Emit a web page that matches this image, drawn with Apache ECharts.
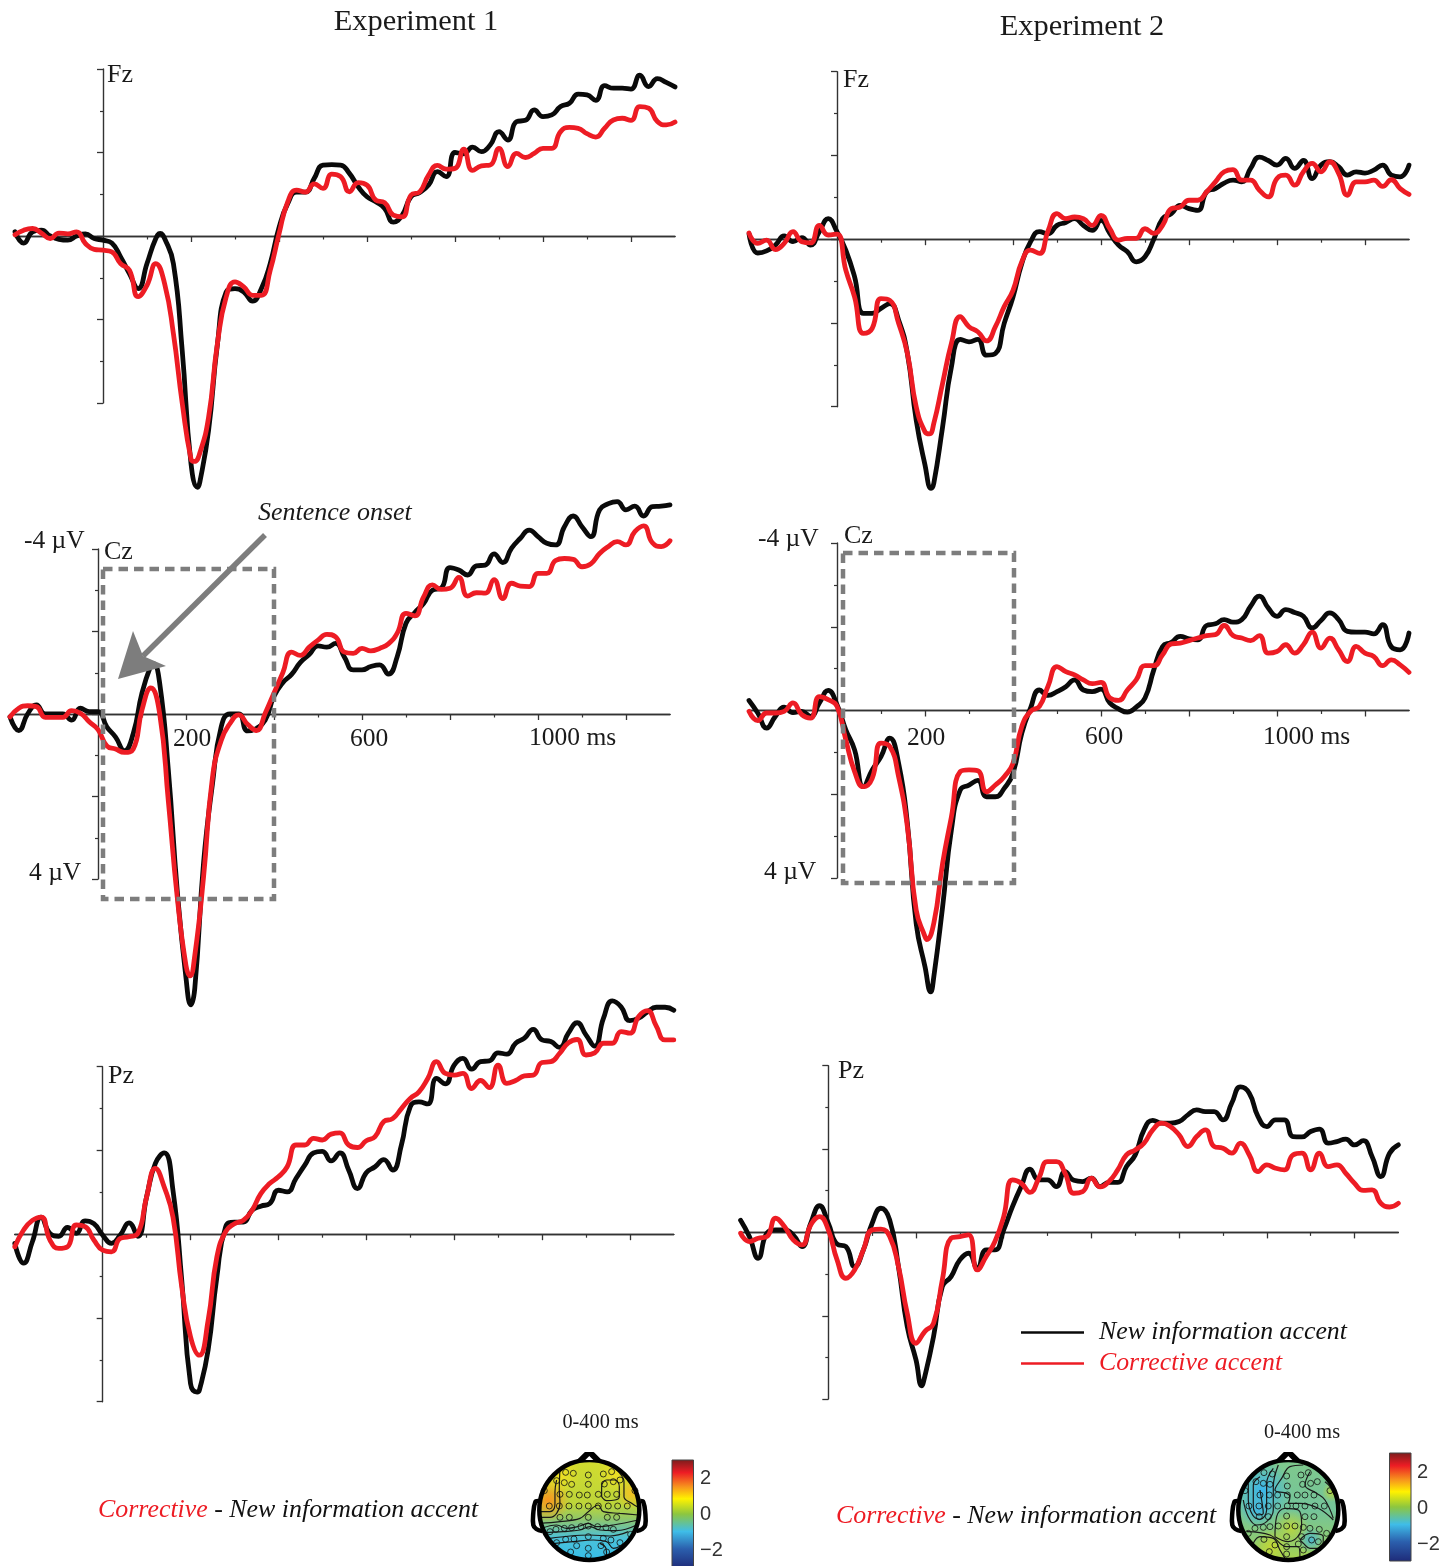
<!DOCTYPE html>
<html><head><meta charset="utf-8">
<style>html,body{margin:0;padding:0;background:#fff}#c{width:1456px;height:1566px}</style>
<script src="https://cdn.jsdelivr.net/npm/echarts@6/dist/echarts.min.js"></script>
</head><body><div id="c"></div>
<script>
// sample times in ms, one every 20 ms from -200 to 1300
const times = [-200,-180,-160,-140,-120,-100,-80,-60,-40,-20,0,20,40,60,80,100,120,140,160,180,200,220,240,260,280,300,320,340,360,380,400,420,440,460,480,500,520,540,560,580,600,620,640,660,680,700,720,740,760,780,800,820,840,860,880,900,920,940,960,980,1000,1020,1040,1060,1080,1100,1120,1140,1160,1180,1200,1220,1240,1260,1280,1300];
const xMajorTicks = [200,400,600,800,1000,1200];
const xMinorTicks = [100,300,500,700,900,1100];
const seriesNew = 'New information accent';
const seriesCorr = 'Corrective accent';

// Experiment 1, values in microvolts (negative is up)
const e1FzNew = [-.1,.17,-.1,-.14,0,.08,.1,0,-.05,.06,.1,.17,.5,.9,1.26,.66,.06,.06,.66,2.74,5.45,5.9,4.65,2.6,1.34,1.26,1.34,1.56,1.26,.66,-.2,-.78,-1.05,-1.05,-1.38,-1.7,-1.71,-1.7,-1.5,-1.18,-.94,-.82,-.66,-.33,-.5,-.94,-1.04,-1.22,-1.54,-1.42,-2,-1.97,-2.13,-2.02,-2.18,-2.5,-2.3,-2.74,-2.77,-3.02,-2.86,-2.9,-3.1,-3.18,-3.4,-3.38,-3.25,-3.6,-3.54,-3.54,-3.52,-3.85,-3.58,-3.77,-3.68,-3.57];
const e1FzNewPeaks = [[130,-.06],[215,6.02]];
const e1FzCorr = [-.03,-.14,-.18,-.07,.06,-.07,-.05,-.1,.18,.32,.34,.38,.66,.82,1.45,1.18,.66,1.14,2.34,4,5.34,5.2,4.34,2.58,1.46,1.1,1.22,1.42,1.42,.82,-.05,-.82,-1.1,-1.05,-1.25,-1.14,-1.48,-1.42,-1.06,-1.28,-1.22,-.86,-.8,-.5,-.46,-.98,-1.06,-1.46,-1.69,-1.6,-1.62,-2.08,-1.57,-1.68,-1.7,-2.1,-1.66,-1.98,-1.88,-1.98,-2.1,-2.1,-2.5,-2.6,-2.58,-2.45,-2.37,-2.58,-2.78,-2.82,-2.77,-3.1,-3.06,-2.74,-2.66,-2.73];
const e1FzCorrPeaks = [[208,5.4]];
const e1CzNew = [.07,.4,0,-.22,0,0,0,.15,-.14,-.06,-.06,.31,.56,.89,.48,-.51,-1.17,-.76,1.38,4.27,6.4,6.65,3.6,1.71,.31,0,0,.41,.35,.15,-.43,-.76,-.96,-1.25,-1.44,-1.65,-1.62,-1.71,-1.38,-1.07,-1.07,-1.15,-1.19,-.97,-1.39,-2.2,-2.46,-2.68,-3,-3.05,-3.55,-3.49,-3.37,-3.59,-3.61,-3.88,-3.67,-4.02,-4.26,-4.46,-4.3,-4.14,-4.1,-4.54,-4.8,-4.54,-4.3,-4.95,-5.1,-5.15,-4.95,-5.04,-4.8,-5.03,-5.04,-5.07];
const e1CzNewPeaks = [[126,-1.22],[211,7.05]];
const e1CzCorr = [.07,-.14,-.2,-.18,.08,.08,.08,-.08,-.02,.19,.38,.77,.85,.93,.85,-.1,-.63,-.02,2.13,4.43,6.1,5.85,3.94,1.55,.64,.23,.02,.25,.4,-.02,-.51,-1,-1.5,-1.42,-1.62,-1.79,-1.93,-1.87,-1.5,-1.47,-1.59,-1.53,-1.59,-1.7,-1.96,-2.44,-2.38,-2.84,-3.13,-3.02,-3.05,-3.31,-2.86,-2.94,-2.93,-3.26,-2.8,-3.17,-3.1,-3.09,-3.41,-3.41,-3.72,-3.77,-3.75,-3.57,-3.64,-3.89,-4.06,-4.18,-4.1,-4.42,-4.56,-4.15,-4.06,-4.2];
const e1CzCorrPeaks = [[209,6.35]];
const e1PzNew = [.22,.69,.18,-.41,-.02,.05,-.16,-.02,-.32,-.25,.02,.22,.02,-.27,.05,-.89,-1.69,-1.94,-1.05,1.1,3.57,3.73,2.77,1.02,-.18,-.29,-.29,-.57,-.67,-.73,-1.05,-1.01,-1.33,-1.65,-1.94,-1.98,-1.75,-1.94,-1.53,-1.09,-1.47,-1.61,-1.78,-1.53,-2.13,-3.04,-3.16,-3.11,-3.72,-3.59,-4.04,-4.2,-3.94,-4.12,-4.14,-4.33,-4.3,-4.56,-4.68,-4.89,-4.64,-4.6,-4.46,-4.8,-5.05,-4.76,-4.49,-5.16,-5.57,-5.43,-5.1,-5.16,-5.31,-5.42,-5.42,-5.35];
const e1PzNewPeaks = [[215,3.77]];
const e1PzCorr = [.3,-.1,-.33,-.41,.14,.34,.3,-.22,-.18,.14,.38,.42,.1,.06,-.02,-.89,-1.57,-1.13,-.41,1.26,2.45,2.89,2.06,.54,-.06,-.25,-.33,-.57,-.97,-1.21,-1.37,-1.61,-2.13,-2.13,-2.29,-2.25,-2.39,-2.42,-2.13,-2.07,-2.23,-2.33,-2.69,-2.76,-3,-3.24,-3.4,-3.72,-4.12,-3.84,-3.8,-3.84,-3.48,-3.67,-3.5,-4.04,-3.6,-3.67,-3.78,-3.8,-4.1,-4.12,-4.32,-4.57,-4.65,-4.28,-4.33,-4.56,-4.56,-4.84,-4.8,-5.2,-5.34,-4.97,-4.64,-4.64];

// Experiment 2
const e2FzNew = [-.13,.33,.28,.14,-.08,.06,-.04,.14,-.18,-.49,-.18,.26,.9,1.77,1.77,1.65,1.54,1.93,2.73,4.32,5.39,5.83,4.48,3.05,2.39,2.45,2.39,2.77,2.73,2.01,1.38,.58,.06,-.18,-.13,-.33,-.4,-.49,-.33,-.21,-.45,-.14,.14,.3,.54,.42,0,-.49,-.61,-.81,-.73,-.69,-1.13,-1.21,-1.34,-1.41,-1.37,-1.69,-1.96,-1.88,-1.77,-1.93,-1.69,-1.88,-1.45,-1.77,-1.85,-1.73,-1.53,-1.61,-1.58,-1.65,-1.77,-1.53,-1.49,-1.77];
const e2FzNewPeaks = [[214,5.95]];
const e2FzCorr = [-.15,.1,.02,.25,.1,-.18,.06,.09,-.33,-.1,-.12,.74,1.38,2.25,2.13,1.42,1.46,2.01,2.73,4,4.6,4.4,3.44,2.49,1.85,2.09,2.21,2.43,2.09,1.61,1.22,.54,.26,.34,-.21,-.61,-.49,-.53,-.49,-.33,-.57,-.25,.02,-.02,-.02,-.25,-.14,-.33,-.73,-.77,-.93,-.93,-1.13,-1.37,-1.61,-1.66,-1.41,-1.41,-1.17,-1.01,-1.45,-1.53,-1.29,-1.61,-1.81,-1.61,-1.85,-1.57,-1.05,-1.37,-1.37,-1.41,-1.26,-1.42,-1.21,-1.07];
const e2FzCorrPeaks = [[210,4.65]];
const e2CzNew = [-.24,.06,.42,.14,-.08,.05,.02,.14,-.18,-.48,-.14,.46,.94,1.82,1.42,1.1,.66,1.26,2.7,5.09,6.12,6.36,4.69,2.85,1.9,1.78,1.67,2.06,2.06,1.86,1.5,.54,-.06,-.49,-.36,-.45,-.57,-.73,-.49,-.45,-.51,-.18,-.04,.04,-.08,-.3,-.97,-1.53,-1.63,-1.77,-1.71,-1.69,-2.03,-2.07,-2.17,-2.11,-2.17,-2.49,-2.73,-2.45,-2.25,-2.41,-2.34,-2.25,-1.97,-2.15,-2.33,-2.17,-1.89,-1.87,-1.87,-1.83,-2.05,-1.52,-1.45,-1.85];
const e2CzNewPeaks = [[213,6.72]];
const e2CzCorr = [.02,.24,.06,.06,.02,-.18,.1,.18,-.33,-.26,-.1,.7,1.46,1.82,1.62,.78,.86,1.58,2.78,4.77,5.4,5.08,3.65,2.54,1.46,1.42,1.44,1.94,1.78,1.58,1.26,.38,.02,-.1,-.59,-1.05,-.93,-.85,-.73,-.64,-.67,-.3,-.24,-.49,-.73,-1.07,-1.07,-1.33,-1.59,-1.61,-1.67,-1.73,-1.79,-1.81,-2.03,-1.79,-1.73,-1.67,-1.79,-1.37,-1.41,-1.57,-1.37,-1.57,-1.87,-1.49,-1.73,-1.45,-1.17,-1.53,-1.37,-1.29,-1.07,-1.21,-1.09,-.91];
const e2CzCorrPeaks = [[204,5.47]];
const e2PzNew = [-.29,.1,.62,.02,-.06,-.06,.06,.34,-.22,-.64,-.22,.28,.34,.82,.42,-.22,-.58,-.3,.82,2.26,3.06,3.46,2.5,1.3,1.06,.66,.5,.86,.42,.42,-.06,-.62,-1.1,-1.52,-1.26,-1.26,-1.1,-1.46,-1.25,-1.22,-1.3,-1.1,-1.2,-1.2,-1.58,-1.86,-2.46,-2.69,-2.62,-2.62,-2.66,-2.82,-2.94,-2.9,-2.9,-2.7,-3.1,-3.49,-3.34,-2.78,-2.54,-2.7,-2.7,-2.3,-2.29,-2.42,-2.48,-2.14,-2.18,-2.24,-2.1,-2.2,-1.82,-1.34,-1.9,-2.1];
const e2PzNewPeaks = [[213,3.68]];
const e2PzCorr = [.02,.22,.14,.1,-.34,-.14,.18,.3,-.18,-.38,-.06,.66,1.1,.9,.42,-.06,-.08,.1,.82,1.94,2.66,2.38,2.18,1.14,.14,.1,.06,.9,.58,.22,-.38,-1.26,-1.18,-.96,-1.3,-1.7,-1.7,-1.42,-.94,-.98,-1.3,-1.09,-1.22,-1.5,-1.86,-1.98,-2.14,-2.46,-2.62,-2.54,-2.34,-2.06,-2.3,-2.46,-2.06,-2.02,-1.9,-2.14,-1.86,-1.46,-1.62,-1.54,-1.5,-1.86,-1.9,-1.5,-1.9,-1.58,-1.62,-1.42,-1.18,-1.01,-1.02,-.7,-.61,-.7];

// Scalp-map electrode positions, in map units (x, y down)
const e1Electrodes = [[197,217],[220,220],[265,225],[310,222],[335,215],[170,242],[193,248],[215,253],[265,253],[313,252],[340,245],[360,240],[133,272],[405,272],[180,283],[208,283],[238,285],[262,285],[295,283],[322,283],[350,283],[148,318],[178,318],[207,318],[237,318],[265,318],[295,318],[325,318],[353,318],[382,318],[180,352],[208,352],[265,352],[322,352],[350,352],[150,395],[168,388],[193,385],[215,383],[243,380],[265,378],[293,380],[318,383],[340,388],[392,403],[170,428],[197,418],[222,417],[265,410],[310,415],[333,420],[360,428],[230,437],[265,445],[303,437],[212,456],[320,456],[265,467]];
const e2Electrodes = [[162,218],[187,222],[230,228],[273,225],[295,218],[138,245],[160,250],[180,253],[232,258],[278,253],[302,250],[322,245],[105,272],[360,272],[150,285],[178,285],[203,285],[232,285],[262,285],[285,285],[312,285],[117,318],[147,318],[175,318],[203,318],[232,318],[258,318],[285,318],[315,318],[343,318],[148,350],[175,350],[230,348],[285,350],[312,350],[135,385],[160,382],[180,380],[205,378],[230,378],[255,378],[280,382],[300,385],[328,388],[350,400],[115,400],[162,418],[195,435],[230,410],[275,410],[305,420],[325,425],[265,432],[280,450],[230,440],[178,455],[230,462]];
const e1Contours = [
 [[180,205],[178,270],[180,310],[170,340],[150,352],[122,352]],
 [[123,335],[150,335],[163,325],[165,310],[165,275],[170,240]],
 [[345,205],[372,245],[372,290],[395,310],[415,322]],
 [[305,290],[305,260],[320,240],[345,240],[358,260],[358,290],[345,300],[320,302],[305,290]],
 [[120,370],[180,365],[240,355],[265,335],[295,315],[310,335],[360,340],[415,345]],
 [[125,385],[170,375],[200,385],[240,378],[265,370],[290,380],[340,375],[415,360]],
 [[130,398],[190,395],[240,390],[270,380],[300,390],[350,392],[410,375]],
 [[150,415],[210,408],[270,405],[330,408],[385,395]],
 [[165,430],[220,425],[280,420],[320,425],[340,445],[385,420]],
 [[320,470],[318,445],[300,430]]
];
const e2Contours = [
 [[205,195],[190,260],[190,330],[170,365],[140,375],[115,350],[100,300]],
 [[190,205],[170,250],[170,330],[150,358],[128,345],[115,300],[115,250]],
 [[150,230],[130,255],[130,320],[145,345],[160,340],[155,300],[150,270]],
 [[280,195],[240,200],[215,235],[195,270],[230,280],[240,290],[235,310],[270,310],[325,325],[370,360]],
 [[300,215],[285,255],[320,280],[345,300],[370,355]],
 [[195,410],[200,350],[225,325],[265,330],[275,370],[270,400],[235,425],[195,410]],
 [[110,395],[180,405],[230,440],[265,440],[270,475]],
 [[270,420],[300,400],[340,410],[335,445],[300,445],[280,430],[270,420]],
 [[130,430],[150,410],[190,415],[210,450],[225,475]],
 [[345,245],[360,260],[380,300]]
];

const RED = '#ed1c24', BLACK = '#0a0a0a', GREY = '#7d7d7d', AXIS = '#333';
const SERIF = '"Liberation Serif","Times New Roman",serif';

const panels = [
 {a:e1FzNew, ap:e1FzNewPeaks, b:e1FzCorr, bp:e1FzCorrPeaks, left:15,   width:660,   top:69,    height:334},
 {a:e1CzNew, ap:e1CzNewPeaks, b:e1CzCorr, bp:e1CzCorrPeaks, left:10,   width:660,   top:549,   height:330},
 {a:e1PzNew, ap:e1PzNewPeaks, b:e1PzCorr, bp:[],            left:14.8, width:659,   top:1066.7,height:335},
 {a:e2FzNew, ap:e2FzNewPeaks, b:e2FzCorr, bp:e2FzCorrPeaks, left:749,  width:660,   top:71.7,  height:335},
 {a:e2CzNew, ap:e2CzNewPeaks, b:e2CzCorr, bp:e2CzCorrPeaks, left:749,  width:660,   top:543,   height:335},
 {a:e2PzNew, ap:e2PzNewPeaks, b:e2PzCorr, bp:[],            left:740.6,width:657.75,top:1065.7,height:333.4}
];
const pairs = (arr,extra) => times.map((t,i)=>[t,arr[i]]).concat(extra).sort((p,q)=>p[0]-q[0]);
const grids=[], xAxes=[], yAxes=[], series=[];
panels.forEach((p,i)=>{
  grids.push({left:p.left, top:p.top, width:p.width, height:p.height, outerBoundsMode:'none'});
  xAxes.push({gridIndex:i, type:'value', position:'bottom', min:-200, max:1300,
    splitLine:{show:false}, axisLine:{onZero:true, lineStyle:{color:AXIS,width:1.4}},
    axisTick:{show:true, customValues:xMajorTicks, length:6, lineStyle:{color:AXIS,width:1.3}},
    axisLabel:{show:false}});
  xAxes.push({gridIndex:i, type:'value', position:'bottom', min:-200, max:1300,
    splitLine:{show:false}, axisLine:{show:true, onZero:true, lineStyle:{color:AXIS,width:1.4}},
    axisTick:{show:true, customValues:xMinorTicks, length:3.5, lineStyle:{color:AXIS,width:1.2}},
    axisLabel:{show:false}});
  yAxes.push({gridIndex:i, type:'value', inverse:true, position:'left', min:-4, max:4, interval:2,
    splitLine:{show:false}, axisLine:{onZero:true, lineStyle:{color:AXIS,width:1.4}},
    axisTick:{show:true, length:6, lineStyle:{color:AXIS,width:1.3}},
    minorTick:{show:true, splitNumber:2, length:3, lineStyle:{color:AXIS,width:1.2}},
    axisLabel:{show:false}});
  // hidden twin, so that the odd-hundreds tick axis can also sit on the zero line
  yAxes.push({gridIndex:i, type:'value', inverse:true, position:'left', min:-4, max:4, show:false, splitLine:{show:false}});
  [[seriesNew,p.a,p.ap,BLACK],[seriesCorr,p.b,p.bp,RED]].forEach(([n,d,e,c])=>{
    series.push({type:'line', name:n, xAxisIndex:i*2, yAxisIndex:i*2, data:pairs(d,e), clip:false, smooth:0.5,
      showSymbol:false, symbol:'none', silent:true, animation:false, z:2,
      lineStyle:{color:c, width:4.8, cap:'round', join:'round'}, itemStyle:{color:c}});
  });
});

// scalp-map grids (map units are one third of a pixel)
const maps = [
 {left:539.3, top:1460, xMin:118, electrodes:e1Electrodes, contours:e1Contours, cx:589.3, cy:1510},
 {left:1238.3,top:1460, xMin:85,  electrodes:e2Electrodes, contours:e2Contours, cx:1288.3,cy:1510}
];
maps.forEach(m=>{
  const gi = grids.length, xi = xAxes.length, yi = yAxes.length;
  grids.push({left:m.left, top:m.top, width:100, height:100, outerBoundsMode:'none'});
  xAxes.push({gridIndex:gi, type:'value', min:m.xMin, max:m.xMin+300, show:false, splitLine:{show:false}});
  yAxes.push({gridIndex:gi, type:'value', inverse:true, min:180, max:480, show:false, splitLine:{show:false}});
  m.contours.forEach(c=>series.push({type:'line', name:'contour', xAxisIndex:xi, yAxisIndex:yi, data:c, smooth:0.4,
    showSymbol:false, symbol:'none', clip:false, silent:true, animation:false, z:2, lineStyle:{color:'#1a1a1a',width:1.2}}));
  series.push({type:'scatter', name:'electrodes', xAxisIndex:xi, yAxisIndex:yi, data:m.electrodes, symbol:'circle', symbolSize:6,
    silent:true, animation:false, z:3, itemStyle:{color:'rgba(0,0,0,0)', borderColor:'#111', borderWidth:1}});
});

const T = (text,x,y,size,extra={})=>({type:'text', z:20, x, y, style:Object.assign({text, fontFamily:SERIF, fontSize:size, fill:'#1a1a1a', align:'left', verticalAlign:'middle'},extra)});
const patch = (cx,cy,r,color)=>({type:'circle', z:0.5, shape:{cx,cy,r}, style:{fill:{type:'radial',x:.5,y:.5,r:.5,colorStops:[{offset:0,color:color},{offset:1,color:color.replace(/[\d.]+\)$/,'0)')}]}}});
const headLine = (pts)=>({type:'polyline', z:6, shape:{points:pts, smooth:0.4}, style:{fill:'none',stroke:'#000',lineWidth:4.5,lineJoin:'round'}});
const field = (m,stops,patches)=>[
  {type:'circle', z:0, shape:{cx:m.cx,cy:m.cy,r:50}, style:{fill:{type:'linear',x:0,y:0,x2:0,y2:1,colorStops:stops}}},
  ...patches,
  {type:'ring', z:1, shape:{cx:m.cx,cy:m.cy,r:72,r0:50}, style:{fill:'#fff'}},
  {type:'circle', z:5, shape:{cx:m.cx,cy:m.cy,r:50}, style:{fill:'none',stroke:'#000',lineWidth:4.5}},
  headLine([[m.cx-51,m.cy-9],[m.cx-54,m.cy-8],[m.cx-56,m.cy+3],[m.cx-56,m.cy+15],[m.cx-53,m.cy+19],[m.cx-47,m.cy+21]]),
  headLine([[m.cx+51,m.cy-9],[m.cx+54,m.cy-8],[m.cx+56,m.cy+3],[m.cx+56,m.cy+15],[m.cx+53,m.cy+19],[m.cx+47,m.cy+21]]),
  {type:'polygon', z:6, shape:{points:[[m.cx-12,m.cy-49],[m.cx-4,m.cy-57],[m.cx+4,m.cy-57],[m.cx+12,m.cy-49]]}, style:{fill:'#000',stroke:'#000',lineWidth:2,lineJoin:'round'}},
  {type:'polygon', z:7, shape:{points:[[m.cx-4,m.cy-50],[m.cx,m.cy-54],[m.cx+4,m.cy-50]]}, style:{fill:'#fff'}}
];
const barStops = [{offset:0,color:'#7a1c1c'},{offset:.12,color:'#ed1c24'},{offset:.25,color:'#f7941d'},{offset:.36,color:'#fff200'},{offset:.5,color:'#8dc63f'},{offset:.66,color:'#3fbde8'},{offset:.82,color:'#2b5fad'},{offset:1,color:'#1e2a78'}];
const bar = (x,y)=>({type:'rect', z:5, shape:{x,y,width:21.5,height:108}, style:{fill:{type:'linear',x:0,y:0,x2:0,y2:1,colorStops:barStops},stroke:'#444',lineWidth:1}});
const sans = {fontFamily:'"Liberation Sans",Arial,sans-serif', fill:'#333'};
const caption = (x,y)=>({type:'text', z:20, x, y, style:{text:'{r|Corrective}{k| - New information accent}', verticalAlign:'middle',
   rich:{r:{fontFamily:SERIF,fontSize:25.9,fontStyle:'italic',fill:RED}, k:{fontFamily:SERIF,fontSize:25.9,fontStyle:'italic',fill:'#111'}}}});
const box = (l,t,r,b)=>({type:'rect', z:10, shape:{x:l,y:t,width:r-l,height:b-t}, style:{fill:'none',stroke:GREY,lineWidth:4.5,lineDash:[9.5,6]}});

const graphics = [
  T('Experiment 1',416,22,30.4,{align:'center'}), T('Experiment 2',1082,27,30.4,{align:'center'}),
  T('Fz',107,75,26), T('Cz',104,552,26), T('Pz',108,1076,26),
  T('Fz',843,80,26), T('Cz',844,536,26), T('Pz',838,1071,26),
  T('Sentence onset',258,513,26,{fontStyle:'italic'}),
  T('-4 µV',24,541,25.5), T('4 µV',29,873,25.5), T('-4 µV',758,539,25.5), T('4 µV',764,872,25.5),
  T('200',192,739,25.5,{align:'center'}), T('600',369,739,25.5,{align:'center'}), T('1000 ms',529,738,25.5),
  T('200',926,738,25.5,{align:'center'}), T('600',1104,737,25.5,{align:'center'}), T('1000 ms',1263,737,25.5),
  box(103,569,274,899), box(843,553,1014,883),
  {type:'line', z:11, shape:{x1:265,y1:535,x2:143,y2:656}, style:{stroke:GREY,lineWidth:5.5}},
  {type:'polygon', z:11, shape:{points:[[118,679],[133,631],[143,656],[166,666]]}, style:{fill:GREY}},
  caption(98,1510), caption(836,1516),
  T('0-400 ms',600.5,1423,20.3,{align:'center'}), T('0-400 ms',1302,1433,20.3,{align:'center'}),
  ...field(maps[0],[{offset:0,color:'#d3dc2e'},{offset:.45,color:'#bcd53a'},{offset:.58,color:'#93c865'},{offset:.68,color:'#6fc3a0'},{offset:.78,color:'#4cc2d8'},{offset:1,color:'#35bde9'}],
    [patch(548,1500,22,'rgba(250,150,30,1)'), patch(632,1493,16,'rgba(250,190,30,.9)'), patch(560,1475,20,'rgba(250,225,30,.8)'), patch(615,1475,18,'rgba(250,225,30,.7)')]),
  ...field(maps[1],[{offset:0,color:'#7fc98c'},{offset:.5,color:'#74c49a'},{offset:.8,color:'#8ccb74'},{offset:1,color:'#a8d24e'}],
    [patch(1262,1490,30,'rgba(58,182,235,1)'), patch(1258,1510,18,'rgba(58,182,235,.8)'), patch(1291,1528,18,'rgba(190,215,55,.9)'), patch(1272,1546,18,'rgba(195,215,50,1)'), patch(1311,1540,13,'rgba(70,180,215,.9)'), patch(1332,1492,10,'rgba(190,215,55,.9)')]),
  bar(672,1460), T('2',700,1478,20,sans), T('0',700,1514,20,sans), T('\u22122',700,1550,20,sans),
  bar(1389.5,1453), T('2',1417,1472,20,sans), T('0',1417,1508,20,sans), T('\u22122',1417,1544,20,sans)
];

const chart = echarts.init(document.getElementById('c'), null, {renderer:'canvas'});
chart.setOption({
  backgroundColor:'#fff', animation:false,
  grid:grids, xAxis:xAxes, yAxis:yAxes, series,
  tooltip:{show:false},
  legend:{show:true, orient:'vertical', left:1016, top:1314.5, icon:'rect', itemWidth:63, itemHeight:2.6, itemGap:5, selectedMode:false,
    textStyle:{fontFamily:SERIF, fontSize:25.8, fontStyle:'italic', padding:[0,0,0,10]},
    data:[{name:seriesNew, textStyle:{color:'#111'}},{name:seriesCorr, textStyle:{color:RED}}]},
  graphic:{elements:graphics}
});
</script></body></html>
